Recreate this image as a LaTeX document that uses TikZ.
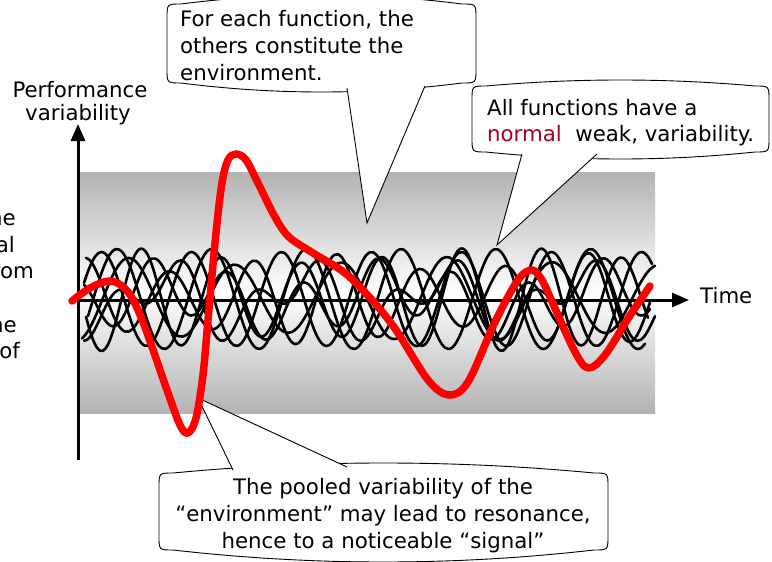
\documentclass[tikz,border=0pt]{standalone}
\usepackage{fontspec}
\setmainfont{DejaVu Sans}
\usetikzlibrary{arrows.meta}
\definecolor{normalred}{RGB}{165,0,33}
\newcommand{\mybubble}[7]{%
  \filldraw[bubble] (#1,{#3+#7}) -- (#1,{#5-#7})
   .. controls (#1,#5) .. ({#1+#7},#5)
   .. controls ({#1+#7+(#2-#1-2*#7)/3},{#5+(#6-#5)*4/3}) and ({#2-#7-(#2-#1-2*#7)/3},{#5+(#6-#5)*4/3}) .. ({#2-#7},#5)
   .. controls (#2,#5) .. (#2,{#5-#7}) -- (#2,{#3+#7})
   .. controls (#2,#3) .. ({#2-#7},#3)
   .. controls ({#2-#7-(#2-#1-2*#7)/3},{#3+(#4-#3)*4/3}) and ({#1+#7+(#2-#1-2*#7)/3},{#3+(#4-#3)*4/3}) .. ({#1+#7},#3)
   .. controls (#1,#3) .. cycle;}
\newcommand{\mytail}[3]{%
  \fill[white] (#1) -- (#2) -- (#3) -- cycle;
  \draw[bubble line] (#1) -- (#2) -- (#3);}
\begin{document}
\begin{tikzpicture}[x=1pt,y=-1pt,
  lbl/.style={font=\fontsize{21.3}{27}\selectfont, inner sep=0pt},
  bubble/.style={draw=black, fill=white, line width=0.9pt},
  bubble line/.style={draw=black, line width=0.9pt, line join=miter},
  wave/.style={line width=2.6pt, line cap=round, line join=round},
  signal/.style={red, line width=7.5pt, line cap=round, line join=round},
  axis/.style={line width=3pt, -{Triangle[length=17pt,width=14pt]}}]
\useasboundingbox (0,0) rectangle (772,562);

% shaded band
\shade[top color=gray!60, bottom color=gray!60, middle color=white] (80,172) rectangle (655,413);

% axes
\coordinate (yo) at (78,460);
\coordinate (ytip) at (78,124);
\coordinate (xo) at (69,300);
\coordinate (xtip) at (689,300);
\draw[axis] (yo) -- (ytip);
\draw[axis] (xo) -- (xtip);

% callout bodies
\mybubble{167}{476}{4}{-5}{83}{92}{14}
\mybubble{472}{769}{86}{80}{152}{159}{14}
\mybubble{159}{608}{473}{463}{550}{562}{14}

% callout tails
\coordinate (b1a) at (347,88);
\coordinate (tip1) at (367,223);
\coordinate (b1b) at (425,86);
\mytail{b1a}{tip1}{b1b}
\coordinate (b2a) at (522,154);
\coordinate (tip2) at (497,245);
\coordinate (b2b) at (597,154);
\mytail{b2a}{tip2}{b2b}
\coordinate (b3a) at (233,470);
\coordinate (tip3) at (198,398);
\coordinate (b3b) at (347,467);
\mytail{b3a}{tip3}{b3b}

% function variability curves
\draw[wave] plot[domain=84:652, samples=160, smooth] (\x, {299+47*sin(4.0*(\x-84)+200)});
\draw[wave] plot[domain=86:648, samples=160, smooth] (\x, {299+52*sin(4.5*(\x-86)+20)*(0.85+0.15*sin(0.9*\x))});
\draw[wave] plot[domain=82:655, samples=160, smooth] (\x, {299+42*sin(3.4*(\x-82)+110)*(0.9+0.1*sin(\x))});
\draw[wave] plot[domain=84:650, samples=160, smooth] (\x, {299+28*sin(4.8*(\x-84)+300)+14*sin(1.6*\x)});
\draw[wave] plot[domain=88:645, samples=160, smooth] (\x, {299+50*sin(3.8*(\x-88)+160)});
\draw[wave] plot[domain=84:655, samples=160, smooth] (\x, {299+24*sin(2.6*(\x-84)+60)+22*sin(5.2*\x+30)});
\draw[wave] plot[domain=86:650, samples=160, smooth] (\x, {299+46*sin(4.3*(\x-86)+270)*(0.8+0.2*sin(1.3*\x+40))});

% resonance signal
\draw[signal] plot[smooth, tension=0.55] coordinates {
 (72,301) (90,288) (111,281) (128,292) (143,322) (167,390) (180,425) (188,433)
 (196,418) (203,375) (208,320) (216,233) (222,183) (228,160) (236,154) (246,160)
 (258,183) (275,217) (289,237) (313,253) (345,273) (372,300) (396,330) (428,380)
 (449,395) (468,382) (495,322) (518,280) (532,270) (542,280) (550,297) (574,350)
 (588,368) (605,355) (629,317) (650,286)};

% texts
\node[lbl, anchor=base] (perf) at (80,97) {Performance};
\node[lbl, anchor=base] (var) at (78,120) {variability};
\node[lbl, anchor=base west] (time) at (700,303) {Time};

\node[lbl, anchor=base west] (c1a) at (180,27) {For each function, the};
\node[lbl, anchor=base west] (c1b) at (180,53.5) {others constitute the};
\node[lbl, anchor=base west] (c1c) at (180,80) {environment.};

\node[lbl, anchor=base west] (c2a) at (487,115) {All functions have a};
\node[lbl, anchor=base west] (c2b) at (487,141.5) {\textcolor{normalred}{normal}\ \ weak, variability.};

\node[lbl, anchor=base] (c3a) at (383,494) {The pooled variability of the};
\node[lbl, anchor=base] (c3b) at (383,521) {“environment” may lead to resonance,};
\node[lbl, anchor=base] (c3c) at (383,548) {hence to a noticeable “signal”};

\node[lbl, anchor=base east] (l1) at (16,225) {ne};
\node[lbl, anchor=base east] (l2) at (15,252) {al};
\node[lbl, anchor=base east] (l3) at (34,278) {rom};
\node[lbl, anchor=base east] (l4) at (17,332) {ne};
\node[lbl, anchor=base east] (l5) at (20,358) {of};
\end{tikzpicture}
\end{document}
